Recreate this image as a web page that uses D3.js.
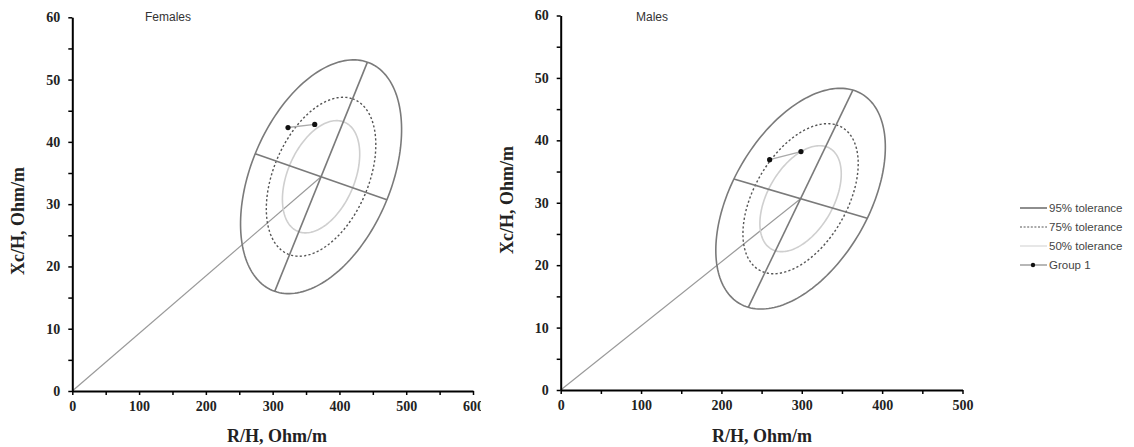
<!DOCTYPE html>
<html>
<head>
<meta charset="utf-8">
<script src="https://cdn.jsdelivr.net/npm/d3@7"></script>
<style>
    body { margin: 0; background: #fff; }
    svg { display: block; }
    .tick text { font-family: "Liberation Serif", "Times New Roman", serif; font-weight: bold; font-size: 14px; fill: #222; }
    .axis-title { font-family: "Liberation Serif", "Times New Roman", serif; font-weight: bold; font-size: 18px; fill: #222; }
    .panel-title { font-family: "Liberation Sans", Arial, sans-serif; font-size: 12px; fill: #333; }
    .legend text { font-family: "Liberation Sans", Arial, sans-serif; font-size: 11.5px; fill: #444; }
</style>
</head>
<body>
<div id="chart"></div>
<script>
// tolerance ellipses (relative size against the 95% one)
const toleranceLabels = ["95% tolerance", "75% tolerance", "50% tolerance"];
const toleranceScale = [1, 0.68, 0.48];

// females: centre, semi-axis vectors (R/H, Xc/H) of the 95% ellipse, group 1 points
const femaleCenter = [372.5, 34.4];
const femaleMajor = [69.4, 18.4];
const femaleMinor = [98.6, -3.7];
const femaleGroup1 = [[323, 42.3], [363, 42.8]];

// males
const maleCenter = [298.5, 30.65];
const maleMajor = [65.1, 17.4];
const maleMinor = [83.0, -3.15];
const maleGroup1 = [[260, 36.9], [299, 38.2]];

const yTicks = [0, 5, 10, 15, 20, 25, 30, 35, 40, 45, 50, 55, 60];
const femaleXTicks = [0, 50, 100, 150, 200, 250, 300, 350, 400, 450, 500, 550, 600];
const maleXTicks = [0, 50, 100, 150, 200, 250, 300, 350, 400, 450, 500];

const width = 1134, height = 447;
const svg = d3.select("#chart").append("svg")
    .attr("width", width)
    .attr("height", height);

// left picture was cut off at its right side
svg.append("defs").append("clipPath")
    .attr("id", "clip-left")
    .append("rect")
    .attr("x", 0).attr("y", 0)
    .attr("width", 481).attr("height", height);

const styles = [
    { stroke: "#7a7a7a", width: 1.6, dash: null },
    { stroke: "#555", width: 1.4, dash: "2.2,2.2" },
    { stroke: "#cfcfcf", width: 1.6, dash: null }
];

function ellipsePoints(c, a, b, k) {
    const angles = d3.range(0, 2 * Math.PI + 0.01, Math.PI / 90);
    return angles.map(t => [
        c[0] + k * (a[0] * Math.cos(t) + b[0] * Math.sin(t)),
        c[1] + k * (a[1] * Math.cos(t) + b[1] * Math.sin(t))
    ]);
}

function drawPanel(cfg) {
    const g = svg.append("g");
    if (cfg.clip) g.attr("clip-path", "url(#clip-left)");

    const x = d3.scaleLinear().domain(cfg.xDomain).range(cfg.xRange);
    const y = d3.scaleLinear().domain([0, 60]).range(cfg.yRange);

    const line = d3.line().x(d => x(d[0])).y(d => y(d[1]));

    // line from origin to the centre
    g.append("path")
        .attr("d", line([[0, 0], cfg.center]))
        .attr("fill", "none")
        .attr("stroke", "#9a9a9a")
        .attr("stroke-width", 1.2);

    // ellipses
    toleranceScale.forEach((k, i) => {
        const s = styles[i];
        g.append("path")
            .attr("d", line(ellipsePoints(cfg.center, cfg.major, cfg.minor, k)))
            .attr("fill", "none")
            .attr("stroke", s.stroke)
            .attr("stroke-width", s.width)
            .attr("stroke-dasharray", s.dash);
    });

    // major and minor axes of the 95% ellipse
    const c = cfg.center;
    [cfg.major, cfg.minor].forEach(v => {
        g.append("path")
            .attr("d", line([[c[0] - v[0], c[1] - v[1]], [c[0] + v[0], c[1] + v[1]]]))
            .attr("fill", "none")
            .attr("stroke", "#7a7a7a")
            .attr("stroke-width", 1.6);
    });

    // group 1
    g.append("path")
        .attr("d", line(cfg.group))
        .attr("fill", "none")
        .attr("stroke", "#aaa")
        .attr("stroke-width", 1.4);
    g.selectAll(".pt")
        .data(cfg.group)
        .enter()
        .append("circle")
        .attr("class", "pt")
        .attr("cx", d => x(d[0]))
        .attr("cy", d => y(d[1]))
        .attr("r", 2.6)
        .attr("fill", "#111");

    // axes
    const xAxis = g.append("g")
        .attr("transform", "translate(0," + cfg.yRange[0] + ")")
        .call(d3.axisBottom(x).tickValues(cfg.xTicks)
            .tickFormat(d => d % 100 === 0 ? d : "")
            .tickSize(4).tickPadding(6).tickSizeOuter(0));
    const yAxis = g.append("g")
        .attr("transform", "translate(" + cfg.xRange[0] + ",0)")
        .call(d3.axisLeft(y).tickValues(yTicks)
            .tickFormat(d => d % 10 === 0 ? d : "")
            .tickSize(4).tickPadding(8).tickSizeOuter(0));
    [xAxis, yAxis].forEach(a => {
        a.select(".domain").attr("stroke", "#000").attr("stroke-width", 2);
        a.selectAll(".tick line").attr("stroke", "#000").attr("stroke-width", 1.5);
    });

    g.append("text")
        .attr("class", "axis-title")
        .attr("x", cfg.xTitle[0])
        .attr("y", cfg.xTitle[1])
        .attr("text-anchor", "middle")
        .text("R/H, Ohm/m");
    g.append("text")
        .attr("class", "axis-title")
        .attr("transform", "translate(" + cfg.yTitle[0] + "," + cfg.yTitle[1] + ") rotate(-90)")
        .attr("text-anchor", "middle")
        .text("Xc/H, Ohm/m");

    g.append("text")
        .attr("class", "panel-title")
        .attr("x", cfg.titlePos[0])
        .attr("y", cfg.titlePos[1])
        .attr("text-anchor", "middle")
        .text(cfg.title);
}

drawPanel({
    title: "Females", titlePos: [168, 21], clip: true,
    xDomain: [0, 600], xRange: [72.3, 473], yRange: [391, 17.3], xTicks: femaleXTicks,
    xTitle: [277, 442], yTitle: [24, 221],
    center: femaleCenter, major: femaleMajor, minor: femaleMinor, group: femaleGroup1
});

drawPanel({
    title: "Males", titlePos: [652, 21], clip: false,
    xDomain: [0, 500], xRange: [560.7, 962.5], yRange: [390, 15.5], xTicks: maleXTicks,
    xTitle: [762, 442], yTitle: [513, 200],
    center: maleCenter, major: maleMajor, minor: maleMinor, group: maleGroup1
});

// legend
const legend = svg.append("g")
    .attr("class", "legend")
    .attr("transform", "translate(1020, 208)");
const rows = toleranceLabels.concat(["Group 1"]);
rows.forEach((label, i) => {
    const row = legend.append("g").attr("transform", "translate(0," + i * 19 + ")");
    if (i < 3) {
        row.append("line")
            .attr("x1", 0).attr("x2", 27)
            .attr("stroke", i === 0 ? "#444" : styles[i].stroke)
            .attr("stroke-width", i === 0 ? 1.2 : 1)
            .attr("stroke-dasharray", styles[i].dash ? "2,1.6" : null);
    } else {
        row.append("line")
            .attr("x1", 0).attr("x2", 27)
            .attr("stroke", "#888").attr("stroke-width", 1.2);
        row.append("circle")
            .attr("cx", 13).attr("cy", 0).attr("r", 2.2)
            .attr("fill", "#111");
    }
    row.append("text")
        .attr("x", 29)
        .attr("dy", "0.35em")
        .text(label);
});
</script>
</body>
</html>
